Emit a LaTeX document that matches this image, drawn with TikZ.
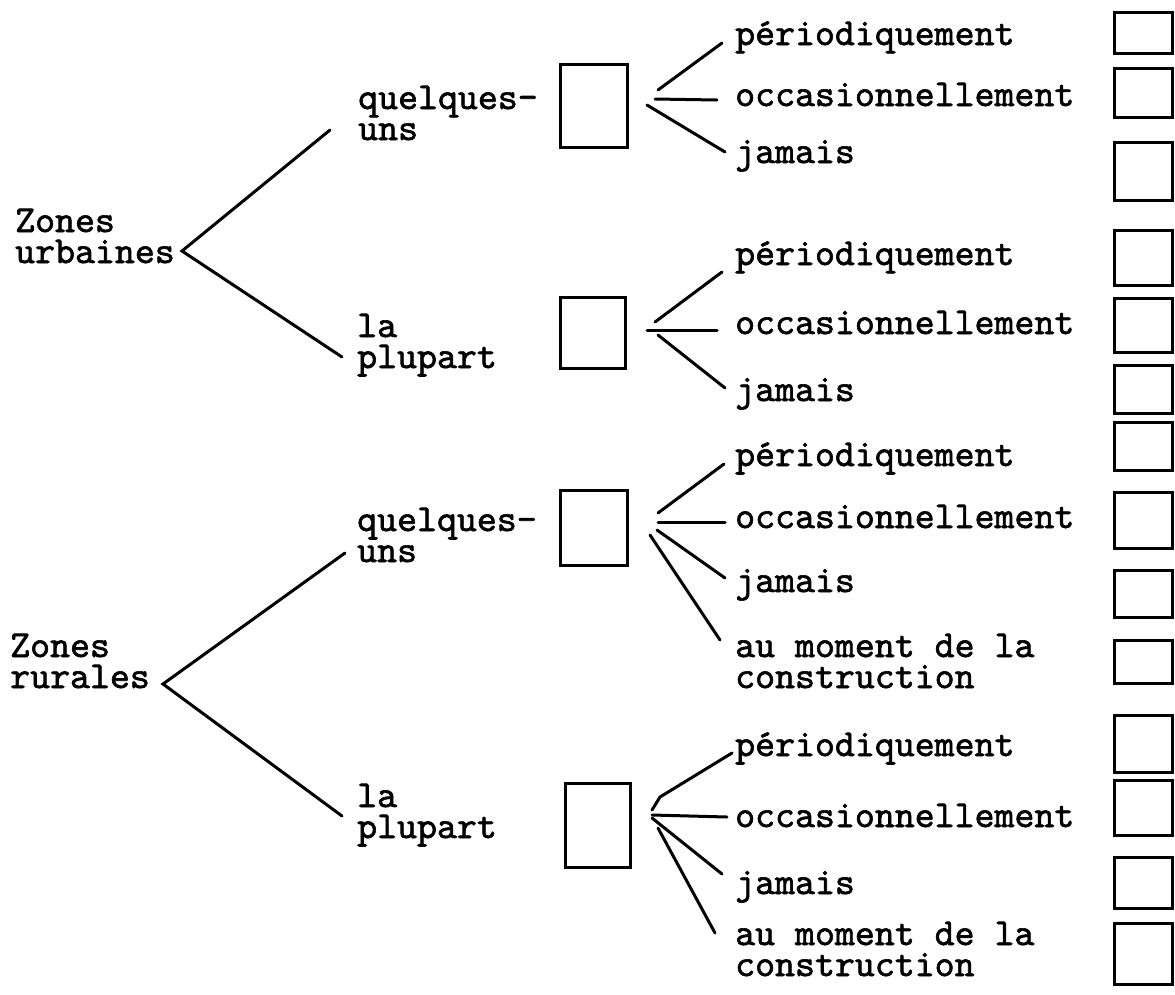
\documentclass[tikz,border=0pt]{standalone}
\usepackage{fontspec}
\newfontfamily\typewriter{lmmono10-regular.otf}[FakeBold=1.6]

\tikzset{
  typed/.style={font=\typewriter\fontsize{38}{31}\selectfont, inner sep=0pt, anchor=base west, align=left},
  branch/.style={line width=3pt, line cap=round},
  ruled/.style={line width=3pt}
}

\begin{document}
\begin{tikzpicture}[x=1pt, y=-1pt]
  \useasboundingbox (0,0) rectangle (1175,994);

  % zones (a two-line node sits on its last line)
  \node[typed] (zu) at (15,263) {Zones\\urbaines};
  \node[typed] (zr) at (10,688) {Zones\\rurales};
  \coordinate (vu) at (182,251);
  \coordinate (vr) at (163,684);

  % how many
  \node[typed] (qu) at (358,140) {quelques-\\uns};
  \node[typed] (pu) at (357,368) {la\\plupart};
  \node[typed] (qr) at (357,562) {quelques-\\uns};
  \node[typed] (pr) at (357,838) {la\\plupart};

  \draw[branch] ([shift={(-28,-10)}]qu.base west) -- (vu) -- ([shift={(-15,-11)}]pu.base west);
  \draw[branch] ([shift={(-12,-9)}]qr.base west) -- (vr) -- ([shift={(-15,-22)}]pr.base west);

  % answer boxes
  \draw[ruled] (560,64) rectangle (627,147);
  \draw[ruled] (560,297) rectangle (625,368);
  \draw[ruled] (560,490) rectangle (627,565);
  \draw[ruled] (565,783) rectangle (630,867);

  % how often
  \node[typed] (a1) at (735,45)  {périodiquement};
  \node[typed] (a2) at (735,106) {occasionnellement};
  \node[typed] (a3) at (735,163) {jamais};

  \node[typed] (b1) at (735,265) {périodiquement};
  \node[typed] (b2) at (735,334) {occasionnellement};
  \node[typed] (b3) at (735,401) {jamais};

  \node[typed] (c1) at (735,466) {périodiquement};
  \node[typed] (c2) at (735,528) {occasionnellement};
  \node[typed] (c3) at (735,592) {jamais};
  \node[typed] (c4) at (735,688) {au moment de la\\construction};

  \node[typed] (d1) at (735,756) {périodiquement};
  \node[typed] (d2) at (735,827) {occasionnellement};
  \node[typed] (d3) at (735,894) {jamais};
  \node[typed] (d4) at (735,976) {au moment de la\\construction};

  % fans
  \coordinate (fa) at (655,99);
  \draw[branch] ([shift={(3,-9)}]fa) -- ([shift={(-13,-2)}]a1.base west);
  \draw[branch] (fa) -- ([shift={(-18,-6)}]a2.base west);
  \draw[branch] ([shift={(-8,6)}]fa) -- ([shift={(-10,-11)}]a3.base west);

  \coordinate (fb) at (647,330);
  \draw[branch] ([shift={(8,-8)}]fb) -- ([shift={(-13,7)}]b1.base west);
  \draw[branch] (fb) -- ([shift={(-18,-4)}]b2.base west);
  \draw[branch] ([shift={(11,5)}]fb) -- ([shift={(-10,-13)}]b3.base west);

  \coordinate (fc) at (658,522);
  \draw[branch] ([shift={(0,-9)}]fc) -- ([shift={(-11,-2)}]c1.base west);
  \draw[branch] (fc) -- ([shift={(-10,-6)}]c2.base west);
  \draw[branch] ([shift={(-1,8)}]fc) -- ([shift={(-10,-14)}]c3.base west);
  \draw[branch] ([shift={(-8,13)}]fc) -- ([shift={(-15,-48)}]c4.base west);

  \coordinate (fd) at (652,815);
  \draw[branch] ([shift={(0,-5)}]fd) -- ([shift={(8,-18)}]fd) -- ([shift={(-3,-3)}]d1.base west);
  \draw[branch] (fd) -- ([shift={(-8,-10)}]d2.base west);
  \draw[branch] ([shift={(0,3)}]fd) -- ([shift={(-13,-20)}]d3.base west);
  \draw[branch] ([shift={(6,13)}]fd) -- ([shift={(-20,-43)}]d4.base west);

  % tick boxes down the margin
  \foreach \top/\bot in {12/53, 68/117, 142/200, 230/285, 298/352, 365/413, 422/470,
                         492/548, 570/617, 640/683, 715/772, 780/835, 857/908, 923/984}
    \draw[ruled] (1114,\top) rectangle (1172,\bot);
\end{tikzpicture}
\end{document}
